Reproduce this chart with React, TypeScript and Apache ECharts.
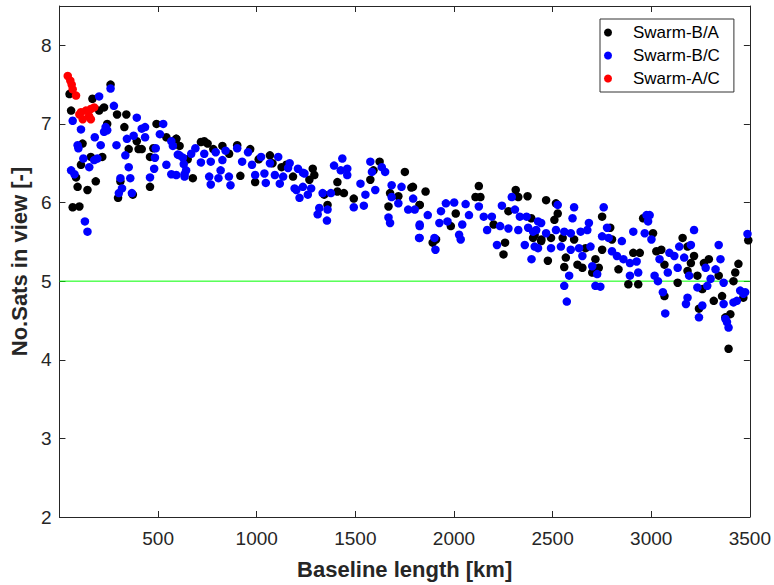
import React, { useEffect, useRef } from "react";
import * as echarts from "echarts";

const xTicks = [500, 1000, 1500, 2000, 2500, 3000, 3500];
const yTicks = [2, 3, 4, 5, 6, 7, 8];
const threshold = 5;
const seriesNames = ["Swarm-B/A", "Swarm-B/C", "Swarm-A/C"];

const swarmBA: number[][] = [
  [259, 7.5], [51, 7.38], [167, 7.32], [59, 7.17], [226, 7.21], [201, 7.17], [292, 7.12], [339, 7.12],
  [242, 7.0], [329, 6.96], [492, 7.0], [542, 6.83], [592, 6.81], [609, 6.72], [392, 6.78], [117, 6.75],
  [351, 6.68], [401, 6.68], [417, 6.68], [476, 6.69], [159, 6.58], [217, 6.58], [459, 6.58], [109, 6.48],
  [84, 6.32], [92, 6.2], [142, 6.16], [184, 6.27], [309, 6.27], [459, 6.2], [297, 6.06], [372, 6.1],
  [67, 5.94], [101, 5.95],
  [734, 6.78], [717, 6.77], [751, 6.75], [826, 6.72], [901, 6.73], [592, 6.81], [676, 6.31], [917, 6.34],
  [992, 6.26], [1184, 6.33], [1067, 6.6], [967, 6.68], [1126, 6.45], [650, 6.55], [780, 6.68], [860, 6.62],
  [1010, 6.55], [1080, 6.5], [1150, 6.48],
  [1284, 6.43], [1292, 6.35], [1267, 6.29], [1342, 6.1], [1409, 6.14], [1442, 6.12], [1492, 6.05], [1359, 5.97],
  [1409, 6.26], [1576, 6.29], [1623, 6.52], [1592, 6.41], [1751, 6.39], [1676, 6.12], [1668, 5.95], [1784, 6.19],
  [1718, 6.08], [1826, 5.97],
  [1792, 6.2], [1856, 6.14], [1826, 5.97], [2126, 6.21], [2134, 6.07], [2109, 6.07], [2009, 5.86], [1984, 5.7],
  [1892, 5.49], [1909, 5.53], [2201, 5.72], [2259, 5.49], [2251, 5.34], [2313, 6.16], [2373, 6.08], [2326, 6.07],
  [2276, 5.89], [2409, 5.59], [2443, 5.53],
  [2467, 6.03], [2517, 5.99], [2526, 5.86], [2509, 5.78], [2392, 5.8], [2401, 5.55], [2442, 5.51], [2492, 5.55],
  [2551, 5.55], [2609, 5.53], [2476, 5.26], [2567, 5.3], [2559, 5.18], [2626, 5.21], [2651, 5.17], [2717, 5.28],
  [2734, 5.17], [2701, 5.11], [2751, 5.82], [2792, 5.68], [2801, 5.53], [2751, 5.4], [2834, 5.15], [2909, 5.36],
  [2942, 5.36], [2884, 4.96], [2934, 4.96], [2959, 5.8], [2667, 5.42],
  [3159, 5.55], [3184, 5.44], [3217, 5.32], [3201, 5.23], [3009, 5.61], [3026, 5.38], [3051, 5.4], [3067, 5.21],
  [3184, 5.13], [3234, 5.07], [3292, 5.28], [3267, 5.23], [3342, 5.07], [3442, 5.22], [3426, 5.11], [3417, 5.0],
  [3134, 4.98], [3259, 4.9], [3359, 4.81], [3317, 4.75], [3242, 4.65], [3401, 4.58], [3376, 4.54], [3467, 4.79],
  [3492, 5.52], [3392, 4.14], [3067, 4.81],
];

const swarmBC: number[][] = [
  [259, 7.45], [201, 7.35], [276, 7.23], [392, 7.08], [67, 7.04], [109, 6.93], [234, 6.96], [242, 6.92],
  [226, 6.9], [417, 6.94], [434, 6.96], [526, 7.0], [376, 6.85], [434, 6.83], [342, 6.81], [179, 6.83],
  [509, 6.87], [567, 6.78], [575, 6.72], [600, 6.61], [626, 6.57], [630, 6.49], [634, 6.36], [92, 6.73],
  [96, 6.69], [209, 6.73], [289, 6.73], [488, 6.69], [334, 6.6], [192, 6.56], [176, 6.54], [121, 6.56],
  [484, 6.57], [151, 6.45], [351, 6.45], [480, 6.43], [542, 6.48], [59, 6.41], [76, 6.36], [309, 6.31],
  [359, 6.31], [459, 6.32], [567, 6.36], [317, 6.18], [301, 6.12], [367, 6.12], [129, 5.76], [142, 5.63],
  [689, 6.69], [668, 6.62], [609, 6.6], [734, 6.62], [792, 6.64], [842, 6.66], [901, 6.69], [956, 6.64],
  [1022, 6.58], [1109, 6.58], [1167, 6.5], [1159, 6.44], [717, 6.51], [767, 6.52], [826, 6.54], [926, 6.52],
  [976, 6.48], [1067, 6.5], [642, 6.41], [592, 6.35], [634, 6.33], [817, 6.41], [759, 6.33], [806, 6.31],
  [859, 6.33], [992, 6.35], [1039, 6.37], [1092, 6.35], [1134, 6.33], [767, 6.23], [867, 6.22], [1046, 6.25],
  [1117, 6.24], [1201, 6.16], [1217, 6.06], [1234, 6.2], [1234, 6.38],
  [1209, 6.43], [1242, 6.37], [1192, 6.18], [1276, 6.18], [1259, 6.1], [1334, 6.12], [1376, 6.12], [1434, 6.56],
  [1392, 6.47], [1426, 6.41], [1459, 6.43], [1459, 6.35], [1526, 6.24], [1576, 6.52], [1584, 6.39], [1634, 6.45],
  [1651, 6.39], [1601, 6.16], [1551, 6.1], [1492, 5.94], [1543, 5.96], [1317, 5.93], [1309, 5.85], [1359, 5.91],
  [1356, 5.77], [1684, 6.22], [1734, 6.2], [1684, 6.07], [1718, 5.99], [1768, 5.91], [1668, 5.81], [1676, 5.74],
  [1793, 6.05], [1826, 5.72], [1823, 5.55],
  [1801, 5.91], [1867, 5.84], [1826, 5.7], [1826, 5.55], [1901, 5.55], [1906, 5.4], [1959, 5.99], [2001, 6.0],
  [2059, 5.98], [2126, 5.95], [2076, 5.84], [1934, 5.89], [1926, 5.74], [1967, 5.76], [2042, 5.72], [2026, 5.59],
  [2034, 5.53], [2151, 5.82], [2192, 5.82], [2168, 5.65], [2218, 5.46], [2234, 5.7], [2276, 5.67], [2243, 5.96],
  [2293, 6.07], [2309, 5.91], [2334, 5.82], [2368, 5.82], [2326, 5.65], [2376, 5.68], [2401, 5.63], [2359, 5.46],
  [2393, 5.28], [2426, 5.42], [2426, 5.76],
  [2526, 5.97], [2609, 5.94], [2601, 5.8], [2759, 5.94], [2584, 5.07], [2559, 4.94], [2572, 4.74], [2442, 5.74],
  [2417, 5.65], [2467, 5.61], [2517, 5.65], [2559, 5.63], [2592, 5.61], [2642, 5.63], [2684, 5.74], [2676, 5.65],
  [2409, 5.44], [2492, 5.42], [2542, 5.44], [2592, 5.4], [2634, 5.42], [2651, 5.32], [2692, 5.44], [2701, 5.19],
  [2726, 5.09], [2717, 4.94], [2742, 4.93], [2751, 5.57], [2784, 5.55], [2776, 5.68], [2801, 5.38], [2826, 5.32],
  [2851, 5.51], [2859, 5.28], [2892, 5.23], [2892, 5.07], [2926, 5.25], [2934, 5.11], [2909, 5.63], [2976, 5.84],
  [2967, 5.61],
  [2992, 5.84], [2984, 5.76], [3001, 5.53], [3217, 5.65], [3342, 5.46], [3351, 5.28], [3142, 5.44], [3201, 5.46],
  [3092, 5.36], [3117, 5.32], [3167, 5.3], [3042, 5.28], [3134, 5.17], [3084, 5.11], [3192, 5.07], [3276, 5.17],
  [3326, 5.15], [3301, 5.03], [3367, 4.98], [3017, 5.07], [3034, 5.0], [3234, 4.92], [3284, 4.94], [3059, 4.86],
  [3184, 4.79], [3176, 4.71], [3259, 4.69], [3242, 4.54], [3071, 4.59], [3367, 4.71], [3417, 4.73], [3434, 4.75],
  [3451, 4.88], [3476, 4.86], [3384, 4.48], [3392, 4.41], [3376, 4.52], [3488, 5.6], [3467, 4.84],
];

const swarmAC: number[][] = [
  [42, 7.61], [55, 7.55], [62, 7.5], [67, 7.44], [84, 7.36], [101, 7.12], [109, 7.15], [118, 7.06],
  [134, 7.17], [150, 7.1], [159, 7.19], [159, 7.06], [176, 7.21],
];

const colors = ["#000000", "#0000ff", "#ff0000"];
const FONT = "Liberation Sans";
const AX = "#262626";

export default function App() {
  const ref = useRef<HTMLDivElement>(null);
  useEffect(() => {
    if (!ref.current) return;
    const chart = echarts.init(ref.current, undefined, { renderer: "svg" });
    const baseX = {
      type: "value" as const,
      min: 0,
      max: 3500,
      interval: 500,
      splitLine: { show: false },
    };
    const baseY = {
      type: "value" as const,
      min: 2,
      max: 8.5,
      interval: 1,
      splitLine: { show: false },
    };
    const tick = { show: true, inside: true, length: 6, lineStyle: { color: AX, width: 1 } };
    const line = { show: true, onZero: false, lineStyle: { color: AX, width: 1 } };
    const scatter = (i: number, data: number[][]) => ({
      name: seriesNames[i],
      type: "scatter",
      data,
      symbolSize: 8.5,
      itemStyle: { color: colors[i], opacity: 1 },
      emphasis: { disabled: true },
      z: 2 + i,
    });
    chart.setOption({
      animation: false,
      backgroundColor: "#fff",
      grid: { left: 51, right: 23, top: 6, bottom: 62, containLabel: false },
      legend: {
        orient: "vertical",
        left: 600,
        top: 19,
        data: seriesNames,
        icon: "circle",
        itemWidth: 8,
        itemHeight: 8,
        itemGap: 6,
        borderColor: "#333",
        borderWidth: 1,
        backgroundColor: "#fff",
        borderRadius: 0,
        padding: [5, 14, 5, 4],
        textStyle: { fontFamily: FONT, fontSize: 17, color: "#000", padding: [0, 0, 0, 16] },
      },
      xAxis: [
        {
          ...baseX,
          position: "bottom",
          axisLine: line,
          axisTick: tick,
          axisLabel: {
            color: AX,
            fontFamily: FONT,
            fontSize: 19,
            margin: 12,
            formatter: (v: number) => (xTicks.includes(v) ? String(v) : ""),
          },
          name: "Baseline length [km]",
          nameLocation: "middle",
          nameGap: 41,
          nameTextStyle: { fontFamily: FONT, fontSize: 22, fontWeight: "bold", color: AX },
        },
        {
          ...baseX,
          position: "top",
          axisLine: line,
          axisTick: tick,
          axisLabel: { show: false },
        },
      ],
      yAxis: [
        {
          ...baseY,
          position: "left",
          axisLine: line,
          axisTick: tick,
          axisLabel: {
            color: AX,
            fontFamily: FONT,
            fontSize: 19,
            margin: 8,
            formatter: (v: number) => (yTicks.includes(v) ? String(v) : ""),
          },
          name: "No.Sats in view [-]",
          nameLocation: "middle",
          nameGap: 24,
          nameTextStyle: { fontFamily: FONT, fontSize: 22, fontWeight: "bold", color: AX },
        },
        {
          ...baseY,
          position: "right",
          axisLine: line,
          axisTick: tick,
          axisLabel: { show: false },
        },
      ],
      series: [
        {
          type: "line",
          data: [[0, threshold], [3500, threshold]],
          symbol: "none",
          lineStyle: { color: "#00ff00", width: 1 },
          silent: true,
          z: 1,
        },
        scatter(0, swarmBA),
        scatter(1, swarmBC),
        scatter(2, swarmAC),
      ],
    });
    return () => chart.dispose();
  }, []);
  return <div ref={ref} style={{ width: 774, height: 585, position: "fixed", left: 0, top: 0 }} />;
}
